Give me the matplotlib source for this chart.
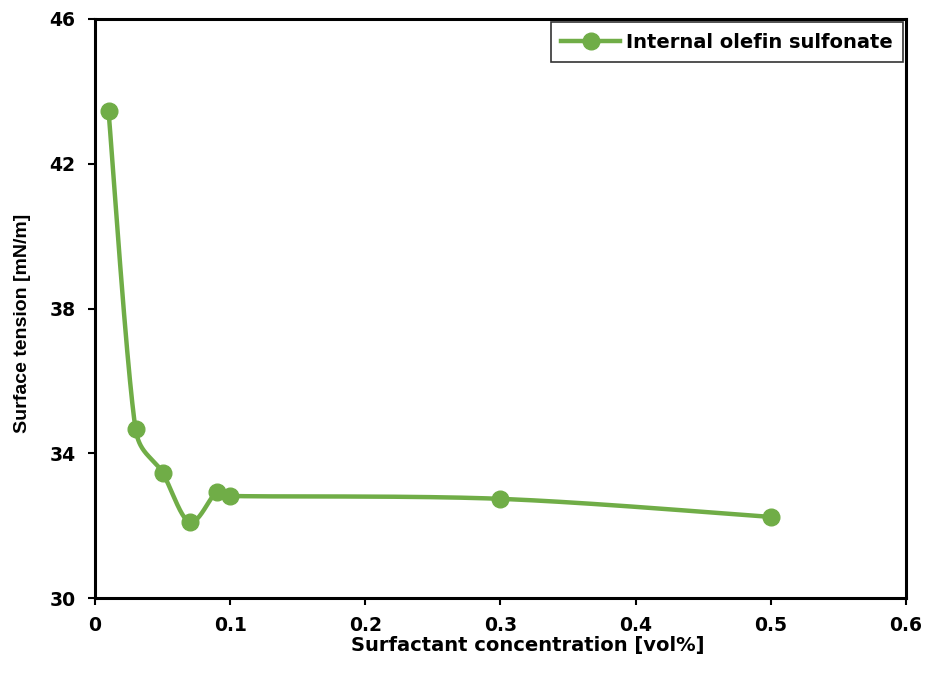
import numpy as np
import matplotlib
matplotlib.use("Agg")
import matplotlib.pyplot as plt

# Surface tension of internal olefin sulfonate vs. concentration
concentration = [0.01, 0.03, 0.05, 0.07, 0.09, 0.10, 0.30, 0.50]
surface_tension = [43.46, 34.67, 33.46, 32.10, 32.93, 32.82, 32.74, 32.24]
series_label = "Internal olefin sulfonate"
x_ticks = [0, 0.1, 0.2, 0.3, 0.4, 0.5, 0.6]
x_tick_labels = ["0", "0.1", "0.2", "0.3", "0.4", "0.5", "0.6"]
y_ticks = [30, 34, 38, 42, 46]

plt.rcParams['font.family'] = ['DejaVu Sans']
plt.rcParams['font.weight'] = 'bold'

green = "#70AD47"

fig = plt.figure(figsize=(9.28, 6.73), dpi=100)
ax = fig.add_axes([95 / 928, 1 - 598 / 673, (906 - 95) / 928, (598 - 19) / 673])
ax.set_xlim(0, 0.6)
ax.set_ylim(30, 46)


def smooth_curve(xs, ys, ax, n=80):
    """Bezier spline through the points; tangent arms are 1/6 of the
    neighbour chord, capped at half of the segment length (display space)."""
    pts = ax.transData.transform(np.column_stack([xs, ys]))
    p = np.vstack([pts[0], pts, pts[-1]])
    out = []
    for i in range(1, len(p) - 2):
        p0, p1, p2, p3 = p[i - 1], p[i], p[i + 1], p[i + 2]
        d12 = np.hypot(*(p2 - p1))
        d02 = np.hypot(*(p2 - p0))
        d13 = np.hypot(*(p3 - p1))
        f1 = 1 / 6 if d02 / 6 < d12 / 2 else d12 / (2 * d02)
        f2 = 1 / 6 if d13 / 6 < d12 / 2 else d12 / (2 * d13)
        c1 = p1 + (p2 - p0) * f1
        c2 = p2 - (p3 - p1) * f2
        t = np.linspace(0, 1, n)[:, None]
        seg = ((1 - t) ** 3) * p1 + 3 * ((1 - t) ** 2) * t * c1 + 3 * (1 - t) * t ** 2 * c2 + t ** 3 * p2
        out.append(seg if i == 1 else seg[1:])
    curve = np.vstack(out)
    return ax.transData.inverted().transform(curve)


curve = smooth_curve(concentration, surface_tension, ax)
ax.plot(curve[:, 0], curve[:, 1], color=green, lw=3.2, solid_capstyle='round', zorder=2)
ax.plot(concentration, surface_tension, linestyle='none', marker='o', ms=12,
        color=green, zorder=3)
# legend proxy
ax.plot([], [], color=green, lw=3.2, marker='o', ms=12, label=series_label)

ax.set_xticks(x_ticks)
ax.set_xticklabels(x_tick_labels)
ax.set_yticks(y_ticks)
ax.tick_params(direction='out', length=5, width=1.5, labelsize=13.5)
ax.tick_params(axis='x', pad=8)
ax.tick_params(axis='y', pad=9)
for lbl in ax.get_xticklabels() + ax.get_yticklabels():
    lbl.set_fontweight('bold')
for s in ax.spines.values():
    s.set_linewidth(2.2)
    s.set_color('black')

ax.set_xlabel("Surfactant concentration [vol%]", fontsize=14, fontweight='bold')
ax.set_ylabel("Surface tension [mN/m]", fontsize=14, fontweight='bold',
              family=['Liberation Sans', 'DejaVu Sans'])
ax.yaxis.set_label_coords((31 - 95) / 811, (598 - 323.5) / 579)

leg = ax.legend(loc='upper right', bbox_to_anchor=(1 - 3 / 811, 1 - 3 / 579), fontsize=14,
                frameon=True, fancybox=False, edgecolor='black', handlelength=3.0,
                handletextpad=0.3, borderpad=0.55, borderaxespad=0.0)
leg.get_frame().set_linewidth(1.2)
for t in leg.get_texts():
    t.set_fontweight('bold')

# place the x label just under the tick labels
fig.canvas.draw()
renderer = fig.canvas.get_renderer()
tick_bottom = min(l.get_window_extent(renderer).y0 for l in ax.get_xticklabels())
ax_bbox = ax.get_window_extent(renderer)
label_top = tick_bottom - 1
ax.xaxis.set_label_coords((528 - 95) / 811, (label_top - ax_bbox.y0) / ax_bbox.height)

fig.savefig("out.png", dpi=100)
